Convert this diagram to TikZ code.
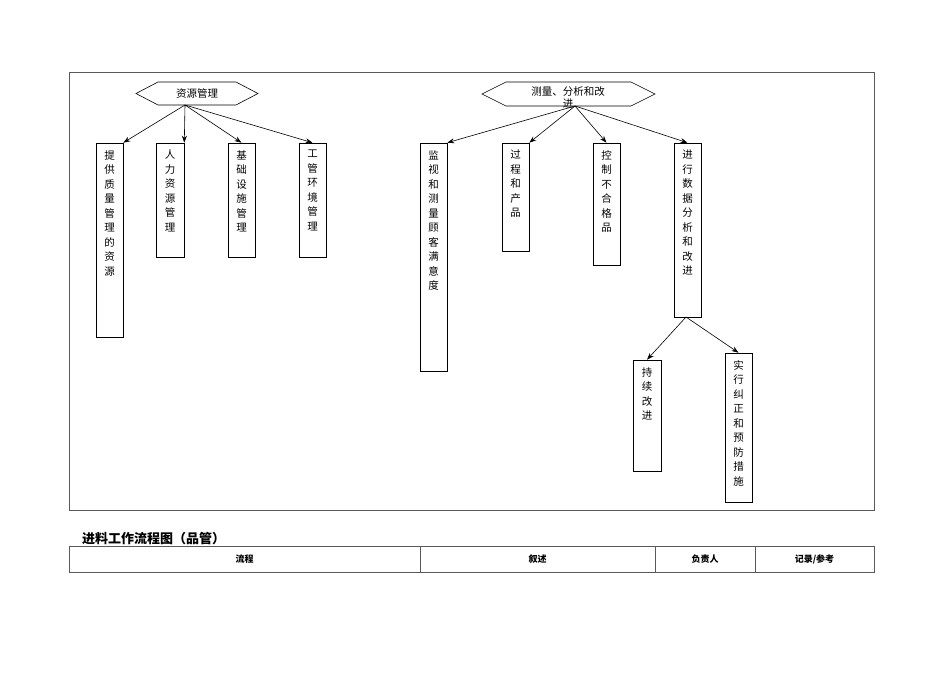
\documentclass[tikz,border=0pt]{standalone}
\usepackage{fontspec}
\setmainfont{Liberation Serif}
\newfontfamily\cjk{Noto Sans CJK SC}
\usetikzlibrary{shapes.geometric,arrows.meta}
\begin{document}
\begin{tikzpicture}[x=1pt,y=-1pt,
  bx/.style={draw,line width=0.6pt,inner sep=0pt},
  ar/.style={-{Stealth[length=7pt,width=5pt]},line width=0.6pt},
  vt/.style={anchor=north,align=center,font=\cjk\fontsize{10.5}{14.5}\selectfont,inner sep=0pt}]
\useasboundingbox (0,0) rectangle (950,672);
\draw[line width=0.5pt,gray!70!black] (69,72) rectangle (874,510);
% hexagons
\draw[line width=0.6pt] (136,93.5)--(158,82)--(236,82)--(258,93.5)--(236,105)--(158,105)--cycle;
\node[font=\cjk\fontsize{10.5}{12}\selectfont] (h1) at (197,93.5) {资源管理};
\coordinate (h1s) at (185,105);
\draw[line width=0.6pt] (482,94)--(506,82)--(631,82)--(655,94)--(631,106)--(506,106)--cycle;
\node[font=\cjk\fontsize{10.5}{12}\selectfont,align=center] (h2) at (568,97) {测量、分析和改\\进};
\coordinate (h2s) at (575,106);
% boxes
\newcommand{\mybx}[6]{\node[bx,minimum width=#4-#2,minimum height=#5-#3] (#1) at ({(#2+#4)/2},{(#3+#5)/2}) {};
  \node[vt] at ({(#2+#4)/2},{#3+7}) {#6};}
\mybx{b1}{96}{143}{123}{337}{提\\供\\质\\量\\管\\理\\的\\资\\源}
\mybx{b2}{156}{143}{184}{257}{人\\力\\资\\源\\管\\理}
\mybx{b3}{228}{143}{255}{257}{基\\础\\设\\施\\管\\理}
\mybx{b4}{299}{143}{326}{257}{工\\管\\环\\境\\管\\理}
\mybx{b5}{420}{143}{447}{371}{监\\视\\和\\测\\量\\顾\\客\\满\\意\\度}
\mybx{b6}{502}{143}{529}{251}{过\\程\\和\\产\\品}
\mybx{b7}{593}{143}{620}{265}{控\\制\\不\\合\\格\\品}
\mybx{b8}{674}{143}{701}{317}{进\\行\\数\\据\\分\\析\\和\\改\\进}
\mybx{b9}{633}{360}{661}{471}{持\\续\\改\\进}
\mybx{b10}{725}{353}{752}{502}{实\\行\\纠\\正\\和\\预\\防\\措\\施}
% arrows
\draw[ar] (h1s) -- (b1.north east);
\draw[ar] (h1s) -- (b2.north east);
\draw[ar] (h1s) -- (b3.north);
\draw[ar] (h1s) -- (b4.north);
\draw[ar] (h2s) -- (b5.north east);
\draw[ar] (h2s) -- (b6.north east);
\draw[ar] (h2s) -- (b7.north);
\draw[ar] (h2s) -- (b8.north);
\coordinate (b8s) at (686,317);
\draw[ar] (b8s) -- (b9.north);
\draw[ar] (b8s) -- (b10.north);
% table
\node[anchor=base west,font=\cjk\bfseries\fontsize{13}{15}\selectfont,inner sep=0pt] (title) at (82,543) {进料工作流程图（品管）};
\draw[line width=0.5pt,gray!70!black] (69,546) rectangle (874,572);
\foreach \x in {420,655,755} \draw[line width=0.5pt,gray!70!black] (\x,546)--(\x,572);
\node[font=\cjk\bfseries\fontsize{9}{11}\selectfont] (c1) at (244.5,559) {流程};
\node[font=\cjk\bfseries\fontsize{9}{11}\selectfont] (c2) at (537.5,559) {叙述};
\node[font=\cjk\bfseries\fontsize{9}{11}\selectfont] (c3) at (705,559) {负责人};
\node[font=\cjk\bfseries\fontsize{9}{11}\selectfont] (c4) at (814.5,559) {记录/参考};
\end{tikzpicture}
\end{document}
